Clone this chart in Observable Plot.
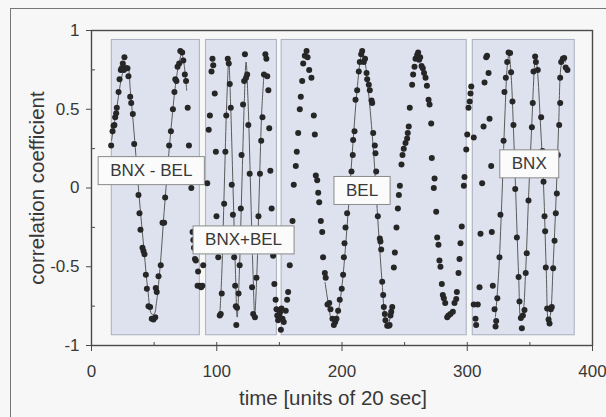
<!DOCTYPE html>
<html><head><meta charset="utf-8">
<script src="https://cdn.jsdelivr.net/npm/d3@7"></script>
<script src="https://cdn.jsdelivr.net/npm/@observablehq/plot@0.6"></script>
<style>
html,body{margin:0;padding:0;background:#f7f7f7;}
#wrap{position:relative;width:606px;height:417px;overflow:hidden;background:#f7f7f7;}
#border{position:absolute;left:10px;top:8px;width:640px;height:460px;border-left:1.5px solid #767676;border-top:1.5px solid #767676;}
#chart{position:absolute;left:0;top:0;}
</style></head><body>
<div id="wrap"><div id="border"></div><div id="chart"></div></div>
<script>
// ---- data ----
const pointX = [15.7,16.8,17.6,18.3,18.9,19.7,20.2,21.6,22.4,23.4,24.1,25,25.8,26.3,27.5,28.7,29.5,30.9,31.7,33,34.1,37.5,38.3,39.1,40.7,41.5,42.3,43.4,44.2,45.5,46.8,48.1,49.5,50.9,51.3,52.1,53.5,55.3,56.7,58,58.8,60.5,62,63.4,65,66.2,66.9,67.8,68.7,70,70.9,72.4,73.3,74.5,75.5,76.8,77.8,79.7,80.7,81.3,81.8,82.6,83.3,84.7,85.1,86.3,87.5,88.5,89.2,
92.4,93.6,94.5,95.8,96.6,97.2,98.4,99.3,99.8,101.2,102.4,103.2,104,105,105.9,106.9,107.6,108.8,109.6,110.4,111.2,112,112.9,113.9,114.7,115.2,115.6,116.2,117.4,118.3,119.2,119.8,121,121.9,122.5,123.4,124.3,125.2,126.3,127.5,128.2,129.1,130.5,131.7,132.4,133.3,134.5,135.5,136.5,137.7,138.8,139.6,140.3,141.2,141.9,142.8,143.8,145,146,147,147.7,148.3,149,149.9,150.5,151.2,151.7,152.5,153.5,155.1,156.2,157,158.3,160.5,161.5,163.1,163.9,165,166.3,167.1,168.2,169,170.3,171.7,172.5,173.8,175.6,177.5,178.3,179.1,180.2,181,181.8,183.1,184.2,184.9,186.3,187,188.4,189.8,190.8,192.4,193.5,194.6,195.6,196.9,198.2,199.8,200.9,201.5,202,202.8,204.1,205.2,207.6,208.6,208.9,210,210.8,212.1,213.4,214.2,215.3,216.1,217.4,218.4,219.6,220.1,221.4,222.2,223.6,224.1,224.9,226.2,226.7,227.3,228.6,230.2,230.7,231.3,232.1,232.9,233.4,234.2,234.7,236.1,237.4,238,238.7,239.3,240.1,241.4,242.2,243.5,244.6,245.4,246.2,247.5,248.3,249.3,250.7,252,252.5,253.3,254.1,256,256.8,257.9,258.7,260,260.8,261.6,262.4,263.5,264.5,265.5,266.7,267.8,269.1,269.9,271.2,271.7,273.3,273.9,275.2,276,277,277.8,278.6,279.7,280.5,281.3,282.4,284,285,286.6,288.5,289.8,291.2,291.7,293,293.8,294.6,295.6,297.3,297.8,299.2,300,301,302,302.6,303.2,305.2,
305.2,306.6,307.1,308.4,309.8,310.6,311.9,313,313.8,315.1,315.8,317,317.8,319.1,319.6,320.4,321.8,322.6,323.1,324,325.7,326.5,329,329.7,330.8,331.9,333,334.2,335,336.1,336.9,338.3,339.6,341,341.7,342.8,343.6,344.4,345.7,346.7,347.5,348.9,350.2,351.6,352.3,352.9,354.2,354.8,356.3,359,360.1,360.9,361.7,362.2,362.7,363.8,364.9,365.7,366.7,367.5,368.6,369.7,370.7,371.5,372.3,373.4,374.2,374.2,375,376.3,377.4,378.6,380];
const pointY = [0.27,0.36,0.395,0.40,0.45,0.475,0.51,0.61,0.69,0.75,0.76,0.79,0.75,0.83,0.76,0.76,0.71,0.58,0.54,0.47,0.28,-0.045,-0.16,-0.265,-0.38,-0.40,-0.42,-0.55,-0.64,-0.75,-0.755,-0.83,-0.835,-0.82,-0.635,-0.66,-0.56,-0.49,-0.22,-0.22,-0.06,0.07,0.27,0.36,0.50,0.61,0.69,0.68,0.77,0.79,0.87,0.86,0.81,0.72,0.68,0.51,0.27,0.0,-0.28,-0.33,-0.38,-0.45,-0.46,-0.62,-0.53,-0.62,-0.63,-0.62,-0.49,
0.03,0.37,0.46,0.74,0.82,0.78,0.60,0.23,-0.18,-0.44,-0.81,-0.80,-0.67,-0.30,-0.10,0.23,0.46,0.82,0.79,0.66,0.51,0.02,-0.17,-0.44,-0.62,-0.75,-0.87,-0.76,-0.67,-0.49,-0.13,0.21,0.53,0.68,0.85,0.70,0.72,0.40,0.09,-0.30,-0.63,-0.80,-0.82,-0.57,-0.38,-0.18,0.09,0.30,0.45,0.72,0.85,0.82,0.71,0.62,0.38,0.11,-0.13,-0.43,-0.61,-0.71,-0.77,-0.81,-0.84,-0.81,-0.79,-0.90,-0.765,-0.83,-0.85,-0.78,-0.71,-0.66,-0.49,-0.21,0.02,0.14,0.23,0.35,0.50,0.58,0.68,0.79,0.84,0.87,0.83,0.75,0.70,0.46,0.34,0.08,0.05,-0.03,-0.09,-0.21,-0.28,-0.44,-0.54,-0.57,-0.74,-0.73,-0.77,-0.83,-0.87,-0.85,-0.83,-0.78,-0.71,-0.64,-0.55,-0.44,-0.35,-0.25,-0.16,-0.01,0.105,0.21,0.305,0.36,0.56,0.62,0.74,0.80,0.85,0.87,0.80,0.82,0.73,0.69,0.655,0.62,0.555,0.54,0.35,0.27,0.22,0.105,-0.18,-0.32,-0.34,-0.39,-0.595,-0.68,-0.755,-0.80,-0.84,-0.875,-0.875,-0.87,-0.81,-0.785,-0.755,-0.505,-0.41,-0.25,-0.13,-0.045,0.015,0.15,0.21,0.25,0.285,0.315,0.35,0.39,0.51,0.655,0.72,0.77,0.82,0.845,0.86,0.815,0.83,0.775,0.76,0.73,0.70,0.65,0.56,0.53,0.41,0.19,0.0,0.06,-0.15,-0.315,-0.36,-0.46,-0.50,-0.61,-0.68,-0.70,-0.73,-0.82,-0.81,-0.80,-0.785,-0.73,-0.705,-0.66,-0.54,-0.45,-0.35,-0.245,0.015,0.07,0.245,0.34,0.51,0.55,0.60,0.645,0.32,
-0.74,-0.83,-0.87,-0.74,-0.63,-0.29,0.03,0.39,0.67,0.83,0.84,0.73,0.44,0.14,-0.28,-0.62,-0.77,-0.88,-0.845,-0.70,-0.44,-0.17,0.30,0.61,0.70,0.80,0.86,0.857,0.735,0.55,0.40,-0.006,-0.315,-0.565,-0.72,-0.825,-0.89,-0.81,-0.775,-0.54,-0.415,-0.08,0.17,0.385,0.54,0.74,0.835,0.80,0.75,0.45,0.235,0.04,-0.18,-0.275,-0.505,-0.765,-0.835,-0.86,-0.77,-0.755,-0.51,-0.335,-0.16,-0.035,0.21,0.40,0.54,0.70,0.80,0.82,0.825,0.765,0.75];

// fitted curves (knots), one per shaded segment
const fitSegment = ["BNX - BEL","BNX - BEL","BNX - BEL","BNX - BEL","BNX - BEL","BNX - BEL","BNX - BEL","BNX - BEL","BNX - BEL","BNX - BEL","BNX - BEL","BNX - BEL","BNX - BEL","BNX - BEL","BNX - BEL","BNX - BEL","BNX - BEL","BNX - BEL","BNX - BEL","BNX - BEL","BNX - BEL","BNX - BEL",
"BNX+BEL","BNX+BEL","BNX+BEL","BNX+BEL","BNX+BEL","BNX+BEL","BNX+BEL","BNX+BEL","BNX+BEL","BNX+BEL","BNX+BEL","BNX+BEL","BNX+BEL","BNX+BEL","BNX+BEL","BNX+BEL","BNX+BEL","BNX+BEL","BNX+BEL","BNX+BEL","BNX+BEL",
"BEL","BEL","BEL","BEL","BEL","BEL","BEL","BEL","BEL","BEL","BEL","BEL","BEL","BEL","BEL","BEL","BEL","BEL","BEL","BEL",
"BNX","BNX","BNX","BNX","BNX","BNX","BNX","BNX","BNX","BNX","BNX","BNX","BNX","BNX","BNX","BNX","BNX","BNX","BNX","BNX","BNX","BNX","BNX","BNX","BNX","BNX","BNX","BNX","BNX"];
const fitX = [16,20,24,27,29,31,34,38,42,45,48,50,52,55,58,61,64,67,70,72,74,76,
102.5,104,106,108,109.6,111,113,115,116.3,118,120,122,123.4,125,127,129,130.3,132,134,136,137.8,
186.5,189,192,194,197,200,204,208,212,215,216.3,218,221,225,229,232,234.5,236.5,238.5,240,
322.5,325,327.5,330,332,333.3,335,337,339,341,342.8,344.5,346.5,349,351.5,353.5,354.5,356,358.5,361,363,364.8,366.5,368.5,371,373,375,377,378.5];
const fitY = [0.30,0.50,0.70,0.78,0.77,0.62,0.35,-0.05,-0.40,-0.65,-0.80,-0.80,-0.72,-0.48,-0.15,0.15,0.42,0.65,0.80,0.85,0.78,0.62,
-0.80,-0.55,0.0,0.55,0.80,0.55,0.0,-0.55,-0.82,-0.55,0.0,0.55,0.80,0.55,0.0,-0.55,-0.80,-0.55,0.0,0.50,0.73,
-0.60,-0.73,-0.84,-0.84,-0.78,-0.62,-0.25,0.20,0.62,0.83,0.86,0.82,0.62,0.25,-0.25,-0.60,-0.83,-0.88,-0.82,-0.75,
-0.82,-0.55,-0.10,0.45,0.78,0.85,0.72,0.35,-0.10,-0.55,-0.84,-0.80,-0.55,-0.05,0.40,0.75,0.84,0.75,0.40,0.0,-0.50,-0.85,-0.80,-0.50,-0.05,0.40,0.78,0.83,0.80];

// shaded intervals
const regionStart = [16.2, 91.5, 151.8, 304.4];
const regionEnd = [86.5, 148, 299.6, 385.8];
const regionTop = 0.94;
const regionBottom = -0.935;

// boxed labels
const labelText = ["BNX - BEL", "BNX+BEL", "BEL", "BNX"];
const labelX = [47.7, 121.4, 216, 349.5];
const labelY = [0.11, -0.33, -0.016, 0.153];

// axes
const xTicks = [0, 100, 200, 300, 400];
const xMinorTicks = [50, 150, 250, 350];
const yTicks = [-1, -0.5, 0, 0.5, 1];
const yMinorTicks = [-0.75, -0.25, 0.25, 0.75];
const xTitle = "time [units of 20 sec]";
const yTitle = "correlation coefficient";

// ---- tables ----
const points = pointX.map((x, i) => ({x, y: pointY[i]}));
const fit = fitX.map((x, i) => ({x, y: fitY[i], seg: fitSegment[i]}));
const regions = regionStart.map((s, i) => ({start: s, end: regionEnd[i]}));
const labels = labelText.map((t, i) => ({text: t, x: labelX[i], y: labelY[i]}));

const ink = "#383838";
const chart = Plot.plot({
  width: 606, height: 417,
  marginLeft: 91, marginRight: 14, marginTop: 30, marginBottom: 72,
  x: {domain: [0, 400]},
  y: {domain: [-1, 1]},
  style: {background: "transparent", fontFamily: "'Liberation Sans', Arial, sans-serif", fontSize: "16px", color: ink},
  marks: [
    Plot.rect(regions, {x1: "start", x2: "end", y1: regionBottom, y2: regionTop, fill: "#dde2ee", stroke: "#a7aebf", strokeWidth: 1}),
    Plot.line(fit, {x: "x", y: "y", z: "seg", curve: "catmull-rom", stroke: "#5a5a5a", strokeWidth: 1}),
    Plot.dot(points, {x: "x", y: "y", r: 3, fill: "#262626", stroke: "none"}),
    Plot.text(labels, {x: "x", y: "y", text: "text", fontSize: 17, fill: ink}),
    Plot.frame({stroke: "#4a4a4a", strokeWidth: 1.4}),
    Plot.axisY(yTicks, {anchor: "left", tickSize: 5, tickPadding: 7, tickFormat: d => String(d), label: null, fontSize: 17, stroke: "#4a4a4a", fill: ink}),
    Plot.axisY(yMinorTicks, {anchor: "left", tickSize: 4, dx: 4, tickFormat: () => "", label: null, stroke: "#4a4a4a"}),
    Plot.axisX(xTicks, {anchor: "bottom", tickSize: 6, tickPadding: 13, tickFormat: d => String(d), label: null, fontSize: 17, stroke: "#4a4a4a", fill: ink}),
    Plot.axisX(xTicks, {anchor: "bottom", tickSize: 3, dy: -3, tickFormat: () => "", label: null, stroke: "#4a4a4a"}),
    Plot.axisX(xMinorTicks, {anchor: "bottom", tickSize: 3, dy: -3, tickFormat: () => "", label: null, stroke: "#4a4a4a"}),
    Plot.text([xTitle], {frameAnchor: "bottom", textAnchor: "middle", lineAnchor: "middle", dy: 53, dx: -9, fontSize: 20.5, fill: ink}),
    Plot.text([yTitle], {frameAnchor: "left", textAnchor: "middle", lineAnchor: "middle", dx: -54, rotate: -90, fontSize: 20.5, fill: ink})
  ]
});
document.getElementById("chart").appendChild(chart);

// draw a framed box behind each segment label
chart.querySelectorAll("text").forEach(t => {
  if (!labelText.includes(t.textContent)) return;
  const b = t.getBBox();
  const r = document.createElementNS("http://www.w3.org/2000/svg", "rect");
  const padX = 12, padY = 4.5;
  r.setAttribute("x", b.x - padX);
  r.setAttribute("y", b.y - padY);
  r.setAttribute("width", b.width + 2 * padX);
  r.setAttribute("height", b.height + 2 * padY);
  r.setAttribute("fill", "#fbfbfb");
  r.setAttribute("stroke", "#8a8a8a");
  r.setAttribute("stroke-width", "1");
  const tr = t.getAttribute("transform");
  if (tr) r.setAttribute("transform", tr);
  t.parentNode.insertBefore(r, t);
});
</script>
</body></html>
